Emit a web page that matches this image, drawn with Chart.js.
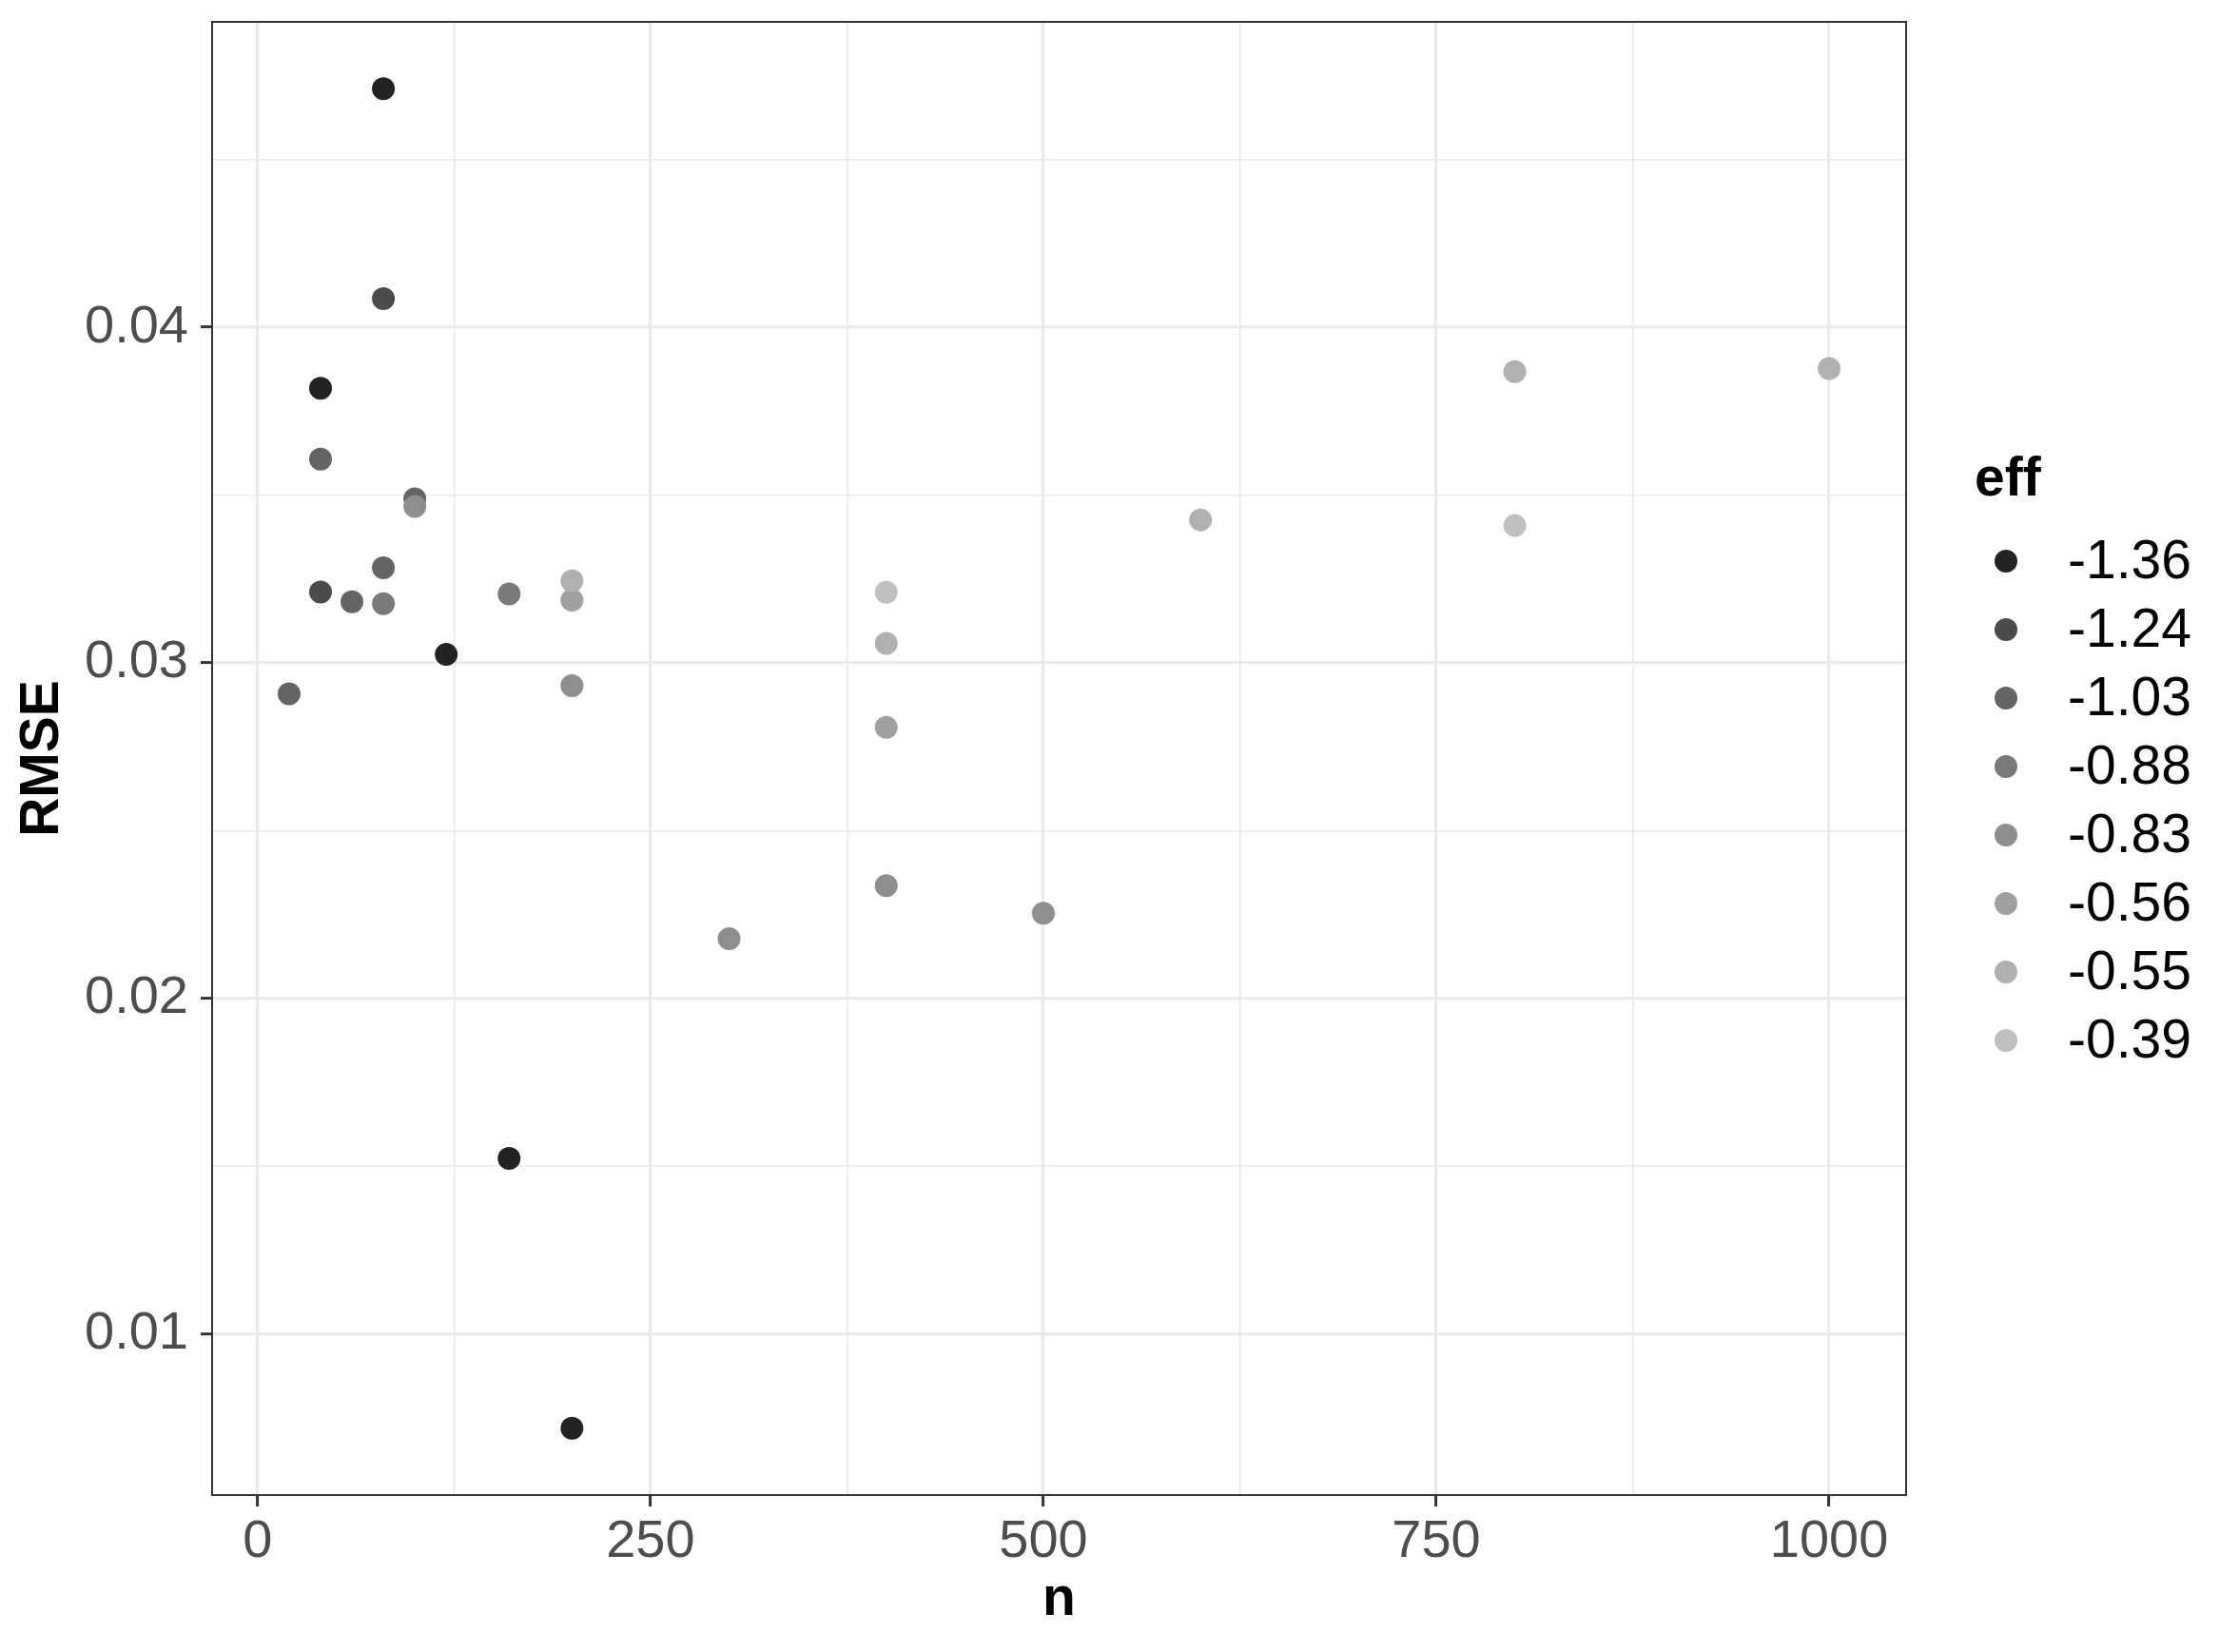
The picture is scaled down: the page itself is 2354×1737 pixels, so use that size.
<!DOCTYPE html>
<html>
<head>
<meta charset="utf-8">
<script src="https://cdn.jsdelivr.net/npm/chart.js@4.4.1/dist/chart.umd.min.js"></script>
<style>
  body { margin: 0; background: #ffffff; }
  canvas { display: block; }
</style>
</head>
<body>
<canvas id="rmseChart" width="2354" height="1737"></canvas>
<script>
// legend levels of eff, darkest first
const effLevels = ['-1.36', '-1.24', '-1.03', '-0.88', '-0.83', '-0.56', '-0.55', '-0.39'];
const effGreys = ['#232323', '#4b4b4b', '#646464', '#7a7a7a', '#8e8e8e', '#a0a0a0', '#b0b0b0', '#c0c0c0'];

// one entry per point
const nValues = [80, 80, 40, 40, 100, 100, 80, 40, 60, 80, 160, 120, 20,
  200, 200, 200, 400, 400, 400, 400, 300, 500, 600, 800, 800, 1000, 160, 200];
const rmseValues = [0.04711, 0.04085, 0.03818, 0.03607, 0.03489, 0.03466, 0.03283, 0.03211,
  0.03182, 0.03176, 0.03205, 0.03025, 0.02908,
  0.03244, 0.03187, 0.02932, 0.03210, 0.03058, 0.02808, 0.02336, 0.02178, 0.02254,
  0.03426, 0.03868, 0.03409, 0.03877, 0.01523, 0.00719];
const effOfPoint = ['-1.36', '-1.24', '-1.36', '-1.03', '-1.03', '-0.83', '-1.03', '-1.24',
  '-1.03', '-0.88', '-0.88', '-1.36', '-1.03',
  '-0.55', '-0.56', '-0.83', '-0.39', '-0.55', '-0.56', '-0.83', '-0.83', '-0.83',
  '-0.55', '-0.55', '-0.39', '-0.55', '-1.36', '-1.36'];

// tick positions (major ones get labels)
const xTicks = [0, 125, 250, 375, 500, 625, 750, 875, 1000];
const xMajor = [0, 250, 500, 750, 1000];
const yTicks = [0.010, 0.015, 0.020, 0.025, 0.030, 0.035, 0.040, 0.045];
const yMajor = [0.01, 0.02, 0.03, 0.04];

const FONT = '"Liberation Sans", Arial, Helvetica, sans-serif';

const isMajorX = v => xMajor.includes(v);
const isMajorY = v => yMajor.some(m => Math.abs(m - v) < 1e-9);

// build one dataset per eff level
const datasets = effLevels.map((lvl, i) => ({
  label: lvl,
  data: nValues
    .map((n, k) => ({ x: n, y: rmseValues[k], eff: effOfPoint[k] }))
    .filter(p => p.eff === lvl),
  backgroundColor: effGreys[i],
  borderColor: effGreys[i],
  borderWidth: 0,
  pointRadius: 12,
  pointHoverRadius: 12,
  order: -i // lighter levels drawn on top
}));

// panel border + legend, drawn like ggplot's theme_bw
const panelAndLegend = {
  id: 'panelAndLegend',
  afterDraw(chart) {
    const { ctx, chartArea: a } = chart;
    ctx.save();
    ctx.strokeStyle = '#333333';
    ctx.lineWidth = 2;
    ctx.strokeRect(a.left, a.top, a.right - a.left, a.bottom - a.top);

    const x0 = a.right + 72;
    ctx.fillStyle = '#000000';
    ctx.font = `bold 57px ${FONT}`;
    ctx.textBaseline = 'alphabetic';
    ctx.textAlign = 'left';
    ctx.fillText('eff', x0, 521);

    ctx.font = `57px ${FONT}`;
    ctx.textBaseline = 'middle';
    effLevels.forEach((lvl, i) => {
      const y = 590 + i * 72;
      ctx.beginPath();
      ctx.arc(x0 + 33, y, 12, 0, Math.PI * 2);
      ctx.fillStyle = effGreys[i];
      ctx.fill();
      ctx.fillStyle = '#000000';
      ctx.fillText(lvl, x0 + 98, y + 2);
    });
    ctx.restore();
  }
};

const ctx = document.getElementById('rmseChart').getContext('2d');

new Chart(ctx, {
  type: 'scatter',
  data: { datasets },
  options: {
    responsive: false,
    animation: false,
    layout: { padding: { top: 0, right: 350, left: 0, bottom: 0 } },
    plugins: {
      legend: { display: false },
      tooltip: { enabled: false }
    },
    scales: {
      x: {
        type: 'linear',
        min: -29,
        max: 1049,
        afterBuildTicks: scale => { scale.ticks = xTicks.map(v => ({ value: v })); },
        afterFit: scale => { scale.height = 165; },
        ticks: {
          autoSkip: false,
          maxRotation: 0,
          padding: 4,
          color: '#4d4d4d',
          font: { family: FONT, size: 56 },
          callback: v => isMajorX(v) ? String(v) : ''
        },
        grid: {
          color: '#ebebeb',
          lineWidth: c => isMajorX(c.tick.value) ? 3.2 : 1.6,
          tickLength: 12,
          tickColor: c => isMajorX(c.tick.value) ? '#333333' : 'rgba(0,0,0,0)',
          tickWidth: 3
        },
        border: { display: false },
        title: {
          display: true,
          text: 'n',
          color: '#000000',
          font: { family: FONT, size: 57, weight: 'bold' },
          padding: { top: 0, bottom: 21 }
        }
      },
      y: {
        type: 'linear',
        min: 0.0052,
        max: 0.0491,
        afterBuildTicks: scale => { scale.ticks = yTicks.map(v => ({ value: v })); },
        afterFit: scale => { scale.width = 223; scale.paddingTop = 23; },
        ticks: {
          autoSkip: false,
          padding: 13,
          color: '#4d4d4d',
          font: { family: FONT, size: 56 },
          callback: v => isMajorY(v) ? v.toFixed(2) : ''
        },
        grid: {
          color: '#ebebeb',
          lineWidth: c => isMajorY(c.tick.value) ? 3.2 : 1.6,
          tickLength: 12,
          tickColor: c => isMajorY(c.tick.value) ? '#333333' : 'rgba(0,0,0,0)',
          tickWidth: 3
        },
        border: { display: false },
        title: {
          display: true,
          text: 'RMSE',
          color: '#000000',
          font: { family: FONT, size: 57, weight: 'bold' },
          padding: { top: 11, bottom: 0 }
        }
      }
    }
  },
  plugins: [panelAndLegend]
});
</script>
</body>
</html>
